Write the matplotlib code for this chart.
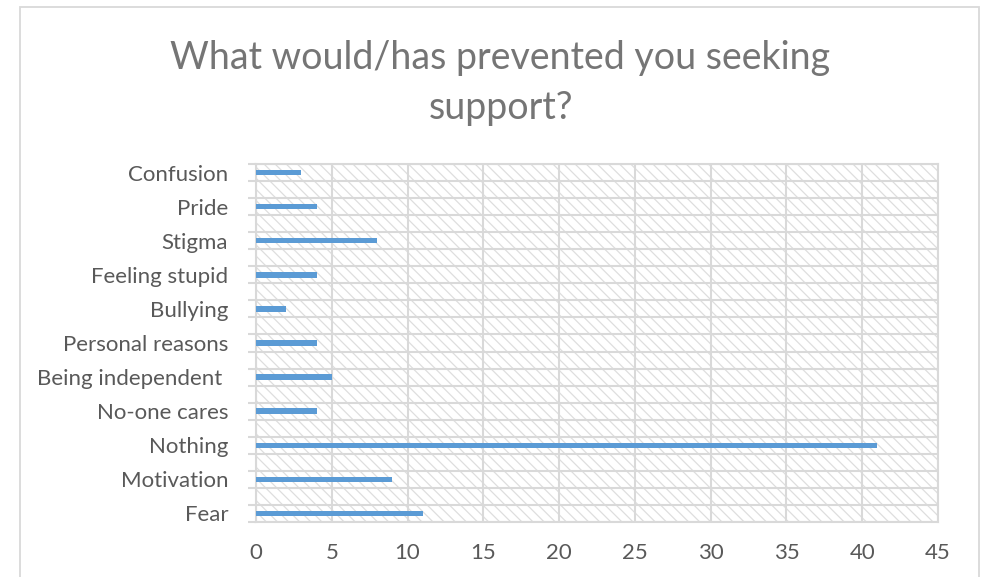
import matplotlib
matplotlib.use("Agg")
import matplotlib.pyplot as plt
from matplotlib.patches import Rectangle
from matplotlib.ticker import FixedLocator

# Survey responses (top to bottom as shown)
categories = ["Confusion", "Pride", "Stigma", "Feeling stupid", "Bullying",
              "Personal reasons", "Being independent ", "No-one cares",
              "Nothing", "Motivation", "Fear"]
counts = [3, 4, 8, 4, 2, 4, 5, 4, 41, 9, 11]
x_ticks = [0, 5, 10, 15, 20, 25, 30, 35, 40, 45]
title = "What would/has prevented you seeking\nsupport?"

plt.rcParams["font.family"] = ["Lato", "DejaVu Sans"]
plt.rcParams["hatch.linewidth"] = 0.9

W, H = 983, 577
fig = plt.figure(figsize=(W / 100, H / 100), dpi=100)
fig.patch.set_facecolor("white")

# Outer chart frame
fig.add_artist(Rectangle((20 / W, -0.05), 959 / W, 1.05 - 7 / H,
                         transform=fig.transFigure, fill=False,
                         edgecolor="#d9d9d9", linewidth=1.3))

left, right = 256 / W, 938 / W
top, bottom = 1 - 164 / H, 1 - 522 / H
ax = fig.add_axes([left, bottom, right - left, top - bottom])

n = len(categories)
# each category takes two grid rows; bars sit in the even rows
ypos = [2 * (n - 1 - i) for i in range(n)]
ax.set_xlim(0, 45)
ax.set_ylim(-0.5, 2 * (n - 1) + 0.5)

# hatched plot background
ax.add_patch(Rectangle((0, 0), 1, 1, transform=ax.transAxes,
                       facecolor="white", edgecolor="#dedede",
                       linewidth=0, hatch="\\\\\\", zorder=0))

ax.barh(ypos, counts, height=0.32, color="#5b9bd5", zorder=3)

ax.xaxis.set_major_locator(FixedLocator(x_ticks))
ax.set_xticklabels([str(v) for v in x_ticks])
ax.yaxis.set_major_locator(FixedLocator(ypos))
ax.set_yticklabels(categories)
ax.yaxis.set_minor_locator(FixedLocator([k - 0.5 for k in range(2 * n)]))

ax.grid(axis="x", which="major", color="#d9d9d9", linewidth=1.5, zorder=1)
ax.grid(axis="y", which="minor", color="#d9d9d9", linewidth=1.5, zorder=1)
ax.set_axisbelow(True)

for s in ax.spines.values():
    s.set_color("#d9d9d9")
    s.set_linewidth(1.5)

ax.tick_params(axis="x", which="major", length=0, pad=15,
               labelsize=16, labelcolor="#595959")
ax.tick_params(axis="y", which="major", length=0, pad=20,
               labelsize=16, labelcolor="#595959")
ax.tick_params(axis="y", which="minor", length=6, width=1.5,
               color="#d9d9d9")

fig.text((168 + 833) / 2 / W, 1 - 83 / H, title, ha="center", va="center",
         fontsize=27, color="#757575", linespacing=1.45)

fig.savefig("out.png", dpi=100, facecolor="white")
